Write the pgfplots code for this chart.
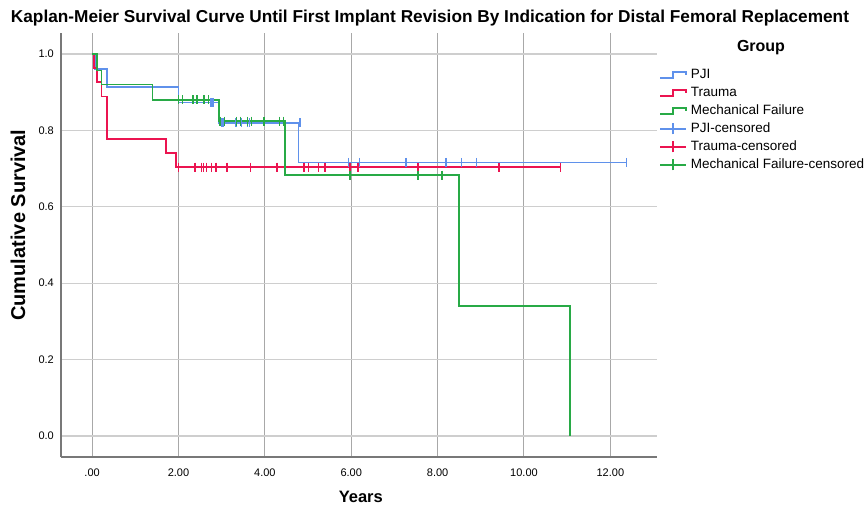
\documentclass[border=0pt]{standalone}
\usepackage{fontspec}
\setmainfont{Liberation Sans}
\usepackage{pgfplots}
\pgfplotsset{compat=1.18}
\definecolor{pjiblue}{RGB}{95,145,235}
\definecolor{traumared}{RGB}{235,20,80}
\definecolor{mechgreen}{RGB}{40,170,70}
\definecolor{gridx}{RGB}{168,168,168}
\definecolor{gridy}{RGB}{206,206,206}
\definecolor{axisgray}{RGB}{120,120,120}
\begin{document}
\begin{tikzpicture}
\begin{axis}[name=ax, scale only axis, width=596bp, height=424bp,
  xmin=-0.72, xmax=13.08, ymin=-0.055, ymax=1.055,
  axis x line*=bottom, axis y line*=left,
  axis line style={-, draw=axisgray, line width=1.2bp},
  xtick={0,2,4,6,8,10,12}, xticklabels={.00,2.00,4.00,6.00,8.00,10.00,12.00},
  ytick={0,0.2,0.4,0.6,0.8,1.0}, yticklabels={0.0,0.2,0.4,0.6,0.8,1.0},
  major tick length=0pt,
  grid=major, x grid style={draw=gridx, line width=1bp}, y grid style={draw=gridy, line width=1.2bp},
  tick label style={font=\fontsize{11bp}{13bp}\selectfont},
  xticklabel style={inner sep=0pt, yshift=-12bp},
  yticklabel style={inner sep=0pt, xshift=-7bp},
  xlabel={\fontsize{16.5bp}{18bp}\selectfont\bfseries Years},
  xlabel style={at={(axis description cs:0.503,0)}, anchor=base, yshift=-45bp},
  ylabel={\fontsize{20bp}{24bp}\selectfont\bfseries Cumulative Survival},
  ylabel style={at={(axis description cs:-0.0722,0.547)}, anchor=center},
  legend cell align=left,
  legend style={at={(axis description cs:1.0034,0.917)}, anchor=north west,
    draw=none, fill=none, inner sep=0pt, row sep=5bp,
    nodes={inner sep=0pt, text height=10bp, text depth=3bp, font=\fontsize{13.5bp}{15bp}\selectfont},
    /tikz/every odd column/.append style={column sep=4bp}},
  clip=false]
% PJI
\addplot[const plot, color=pjiblue, line width=1.8bp,
  legend image code/.code={\draw[draw=pjiblue, line width=1.6bp] (0bp,-3bp) -- (13bp,-3bp) -- (13bp,3bp) -- (26bp,3bp) -- (26bp,0bp);}]
  coordinates {(0,1) (0.07,0.96) (0.35,0.914) (2.0,0.873) (2.93,0.82) (4.78,0.716) (12.38,0.716)};
% Trauma
\addplot[const plot, color=traumared, line width=1.8bp,
  legend image code/.code={\draw[draw=traumared, line width=1.6bp] (0bp,-3bp) -- (13bp,-3bp) -- (13bp,3bp) -- (26bp,3bp) -- (26bp,0bp);}]
  coordinates {(0,1) (0.05,0.963) (0.12,0.926) (0.22,0.889) (0.34,0.778) (1.71,0.741) (1.94,0.704) (10.85,0.704)};
% Mechanical Failure
\addplot[const plot, color=mechgreen, line width=1.8bp,
  legend image code/.code={\draw[draw=mechgreen, line width=1.6bp] (0bp,-3bp) -- (13bp,-3bp) -- (13bp,3bp) -- (26bp,3bp) -- (26bp,0bp);}]
  coordinates {(0,1) (0.12,0.957) (0.22,0.92) (1.40,0.88) (2.93,0.824) (4.47,0.683) (8.5,0.341) (11.06,0)};
% censored
\addplot[only marks, mark=|, mark size=4.5bp, color=pjiblue, mark options={line width=1.4bp},
  legend image code/.code={\draw[draw=pjiblue, line width=1.5bp] (0bp,0bp) -- (26bp,0bp) (13bp,-5.5bp) -- (13bp,5.5bp);}]
  coordinates {(2.75,0.873) (2.80,0.873)
    (3.0,0.82) (3.03,0.82) (3.33,0.82) (3.46,0.82) (3.60,0.82) (3.64,0.82) (4.81,0.82)
    (5.93,0.716) (6.19,0.716) (7.27,0.716) (8.19,0.716) (8.55,0.716) (8.9,0.716) (12.38,0.716)};
\addplot[only marks, mark=|, mark size=4.5bp, color=traumared, mark options={line width=1.4bp},
  legend image code/.code={\draw[draw=traumared, line width=1.5bp] (0bp,0bp) -- (26bp,0bp) (13bp,-5.5bp) -- (13bp,5.5bp);}]
  coordinates {(2.0,0.704) (2.38,0.704) (2.54,0.704) (2.58,0.704) (2.65,0.704) (2.77,0.704)
    (2.87,0.704) (3.12,0.704) (3.67,0.704) (4.28,0.704) (4.91,0.704) (5.01,0.704) (5.24,0.704)
    (5.39,0.704) (5.97,0.704) (6.16,0.704) (7.55,0.704) (9.42,0.704) (10.85,0.704)};
\addplot[only marks, mark=|, mark size=4.5bp, color=mechgreen, mark options={line width=1.4bp},
  legend image code/.code={\draw[draw=mechgreen, line width=1.5bp] (0bp,0bp) -- (26bp,0bp) (13bp,-5.5bp) -- (13bp,5.5bp);}]
  coordinates {(2.0,0.88) (2.09,0.88) (2.34,0.88) (2.43,0.88) (2.59,0.88) (2.69,0.88)
    (2.96,0.824) (3.06,0.824) (3.35,0.824) (3.43,0.824) (3.60,0.824) (3.69,0.824) (3.98,0.824) (4.34,0.824) (4.43,0.824)
    (5.97,0.683) (7.55,0.683) (8.1,0.683)};
\legend{PJI, Trauma, Mechanical Failure, PJI-censored, Trauma-censored, Mechanical Failure-censored}
\end{axis}
\node[anchor=base] at ([xshift=369bp,yshift=10bp]ax.north west)
  {\resizebox{838bp}{!}{\bfseries Kaplan-Meier Survival Curve Until First Implant Revision By Indication for Distal Femoral Replacement}};
\node[font=\fontsize{16bp}{18bp}\selectfont\bfseries] at ([xshift=700bp,yshift=-15bp]ax.north west) {Group};
\path ([xshift=-61bp,yshift=-53bp]ax.south west) rectangle ([xshift=208bp,yshift=33bp]ax.north east);
\end{tikzpicture}
\end{document}
